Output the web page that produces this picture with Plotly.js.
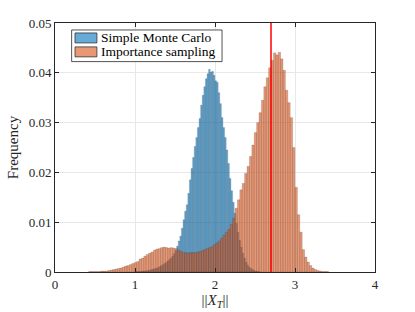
<!DOCTYPE html>
<html><head><meta charset="utf-8">
<script src="https://cdn.plot.ly/plotly-3.0.1.min.js"></script>
<style>html,body{margin:0;padding:0;background:#fff}#c{width:415px;height:312px}</style>
</head><body><div id="c"></div>
<script>
// Simple Monte Carlo histogram (bin width 0.02, first bin starts at 1.00)
const mcStart = 1.00, mcWidth = 0.02;
const mcFreq = [
 0.0001,0.0001,0.0001,0.0001,0.0002,0.0002,0.0002,0.0003,0.0003,0.0004,
 0.0005,0.0006,0.0007,0.0008,0.0009,0.0011,0.0013,0.0015,0.0017,0.0019,
 0.0022,0.0025,0.0028,0.0032,0.0037,0.0043,0.0052,0.0062,0.0072,0.0088,
 0.0105,0.0122,0.0135,0.0158,0.0185,0.0208,0.0230,0.0252,0.0270,0.0290,
 0.0308,0.0335,0.0355,0.0372,0.0388,0.0398,0.0407,0.0401,0.0403,0.0395,
 0.0384,0.0381,0.0360,0.0338,0.0310,0.0290,0.0270,0.0245,0.0218,0.0188,
 0.0163,0.0140,0.0118,0.0098,0.0080,0.0064,0.0050,0.0038,0.0028,0.0020,
 0.0014,0.0010,0.0007,0.0005,0.0003,0.0002,0.0001,0.0001
];
// Importance sampling histogram (bin width 0.03, first bin starts at 0.42)
const isStart = 0.42, isWidth = 0.03;
const isFreq = [
 0.0001,0.0001,0.0001,0.0001,0.0001,0.0002,0.0002,0.0002,0.0003,0.0004,
 0.0005,0.0006,0.0007,0.0008,0.0010,0.0012,0.0013,0.0015,0.0017,0.0019,
 0.0021,0.0026,0.0028,0.0032,0.0035,0.0038,0.0040,0.0044,0.0046,0.0047,
 0.0049,0.0050,0.0049,0.0048,0.0049,0.0048,0.0047,0.0044,0.0041,0.0039,
 0.0039,0.0038,0.0039,0.0039,0.0039,0.0040,0.0041,0.0043,0.0045,0.0047,
 0.0049,0.0051,0.0055,0.0058,0.0062,0.0068,0.0074,0.0080,0.0086,0.0096,
 0.0108,0.0128,0.0145,0.0165,0.0178,0.0198,0.0212,0.0232,0.0255,0.0280,
 0.0300,0.0320,0.0345,0.0372,0.0390,0.0410,0.0425,0.0440,0.0436,0.0441,
 0.0428,0.0405,0.0365,0.0340,0.0310,0.0250,0.0170,0.0115,0.0080,0.0045,
 0.0030,0.0020,0.0013,0.0008,0.0005,0.0003,0.0002,0.0001,0.0001,0.0001
];
const refValue = 2.70;
const seriesNames = ['Simple Monte Carlo','Importance sampling'];
const xTicks = [0,1,2,3,4];
const yTicks = [0,0.01,0.02,0.03,0.04,0.05];

const FONT = 'Liberation Serif';
const blueFill = 'rgba(0,114,189,0.6)', orangeFill = 'rgba(217,83,25,0.6)';
const centers = (start,w,arr)=>arr.map((_,i)=>+(start + w*(i+0.5)).toFixed(4));
const edge = 'rgba(40,40,40,0.55)';
const traces = [
 {type:'bar', x:centers(mcStart,mcWidth,mcFreq), y:mcFreq, width:mcWidth, name:seriesNames[0],
  marker:{color:blueFill, line:{color:edge,width:0.3}}},
 {type:'bar', x:centers(isStart,isWidth,isFreq), y:isFreq, width:isWidth, name:seriesNames[1],
  marker:{color:orangeFill, line:{color:edge,width:0.3}}},
 {type:'scatter', mode:'lines', x:[refValue,refValue], y:[0,0.05], name:'reference',
  line:{color:'#ff0000', width:1.5}, hoverinfo:'skip'}
];
function axis(extra){
  return Object.assign({showline:true, mirror:'ticks', linecolor:'#262626', linewidth:1,
    ticks:'inside', ticklen:4, tickcolor:'#262626', showgrid:true, gridcolor:'#e8e8e8',
    zeroline:false, tickfont:{family:FONT, size:13, color:'#262626'}}, extra);
}
// custom MATLAB-style legend box (paper coordinates)
const legendShapes = [
 {type:'rect', xref:'paper', yref:'paper', x0:0.052, x1:0.522, y0:0.845, y1:0.972,
  fillcolor:'#ffffff', line:{color:'#262626', width:0.8}},
 {type:'rect', xref:'paper', yref:'paper', x0:0.0625, x1:0.131, y0:0.920, y1:0.960,
  fillcolor:blueFill, line:{color:'#333', width:0.8}},
 {type:'rect', xref:'paper', yref:'paper', x0:0.0625, x1:0.131, y0:0.864, y1:0.904,
  fillcolor:orangeFill, line:{color:'#333', width:0.8}}
];
const legendText = [
 {xref:'paper', yref:'paper', x:0.1375, y:0.940, xanchor:'left', yanchor:'middle', showarrow:false,
  text:seriesNames[0], font:{family:FONT, size:13.5, color:'#000'}},
 {xref:'paper', yref:'paper', x:0.1375, y:0.884, xanchor:'left', yanchor:'middle', showarrow:false,
  text:seriesNames[1], font:{family:FONT, size:13.5, color:'#000'}}
];
const layout = {
 width:415, height:312, margin:{l:55,r:40,t:23,b:40},
 paper_bgcolor:'#fff', plot_bgcolor:'#fff', barmode:'overlay', bargap:0,
 font:{family:FONT, color:'#262626', size:13},
 showlegend:false,
 xaxis:axis({range:[0,4], tickvals:xTicks, ticktext:xTicks.map(String),
   title:{text:'||<i>X</i><sub><i>T</i></sub>||', font:{size:15, family:FONT}, standoff:2}}),
 yaxis:axis({range:[0,0.05], tickvals:yTicks, ticktext:yTicks.map(String),
   title:{text:'Frequency', font:{size:15, family:FONT}, standoff:6}}),
 shapes:legendShapes, annotations:legendText
};
Plotly.newPlot('c', traces, layout, {staticPlot:true, displayModeBar:false});
</script></body></html>
